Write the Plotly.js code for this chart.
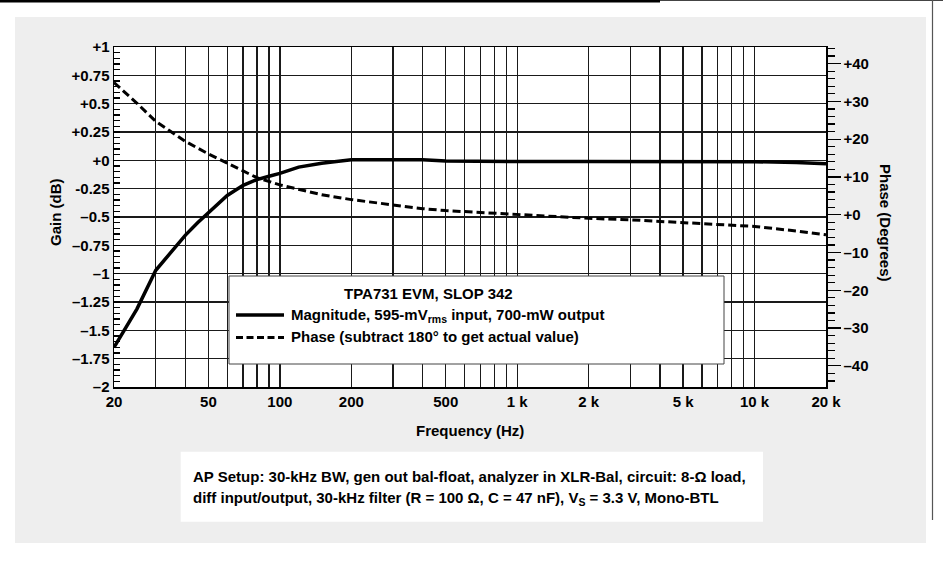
<!DOCTYPE html>
<html><head><meta charset="utf-8">
<script src="https://cdn.plot.ly/plotly-3.0.1.min.js"></script>
<style>html,body{margin:0;padding:0;background:#fff}#chart{width:943px;height:561px}</style>
</head><body><div id="chart"></div>
<script>
// ---- data ----
const freqMag = [20, 25, 30, 35, 40, 45, 50, 60, 70, 80, 90, 100, 120, 150, 200, 300, 400, 500, 700, 1000, 2000, 5000, 10000, 15000, 20000];
const gainDb  = [-1.65, -1.31, -0.97, -0.8, -0.66, -0.55, -0.46, -0.31, -0.22, -0.17, -0.14, -0.115, -0.06, -0.025, 0.005, 0.008, 0.006, -0.005, -0.01, -0.01, -0.01, -0.01, -0.012, -0.02, -0.03];
const freqPhase = [20, 25, 30, 40, 50, 60, 80, 100, 150, 200, 300, 400, 500, 700, 1000, 1500, 2000, 3000, 4000, 5000, 7000, 10000, 15000, 20000];
const phaseDeg  = [35.0, 29.5, 24.7, 19.4, 16.1, 13.7, 9.8, 7.9, 5.3, 4.0, 2.6, 1.6, 1.1, 0.6, 0.26, -0.5, -0.95, -1.35, -1.75, -2.0, -2.5, -3.1, -4.3, -5.3];

const xLabelVals = [20, 50, 100, 200, 500, 1000, 2000, 5000, 10000, 20000];
const xLabelText = ['20', '50', '100', '200', '500', '1 k', '2 k', '5 k', '10 k', '20 k'];
const xGridVals = [30, 40, 60, 70, 80, 90, 300, 400, 600, 700, 800, 900, 3000, 4000, 6000, 7000, 8000, 9000];
const gainTickVals = [1, 0.75, 0.5, 0.25, 0, -0.25, -0.5, -0.75, -1, -1.25, -1.5, -1.75, -2];
const gainTickText = ['+1', '+0.75', '+0.5', '+0.25', '+0', '-0.25', '\u20130.5', '\u20130.75', '\u20131', '\u20131.25', '\u20131.5', '\u20131.75', '\u20132'];
const phaseTickVals = [40, 30, 20, 10, 0, -10, -20, -30, -40];
const phaseTickText = ['+40', '+30', '+20', '+10', '+0', '\u201310', '\u201320', '\u201330', '\u201340'];

const legendTitle = 'TPA731 EVM, SLOP 342';
const legendMag = 'Magnitude, 595-mV<sub>rms</sub> input, 700-mW output';
const legendPhase = 'Phase (subtract 180\u00b0 to get actual value)';
const captionLine1 = 'AP Setup: 30-kHz BW, gen out bal-float, analyzer in XLR-Bal, circuit: 8-\u03a9 load,';
const captionLine2 = 'diff input/output, 30-kHz filter (R = 100 \u03a9, C = 47 nF), V<sub>S</sub> = 3.3 V, Mono-BTL';

// ---- layout helpers (pixel -> paper) ----
const L = 114, T = 47, W = 712, H = 340;
const X = p => (p - L) / W;
const Y = p => (T + H - p) / H;
const FONT = "'Liberation Sans', Arial, sans-serif";
const f = (size) => ({family: FONT, size: size, color: '#000', weight: 'bold'});
const GRID = '#1a1a1a';

const traces = [
  {x: freqMag, y: gainDb, type: 'scatter', mode: 'lines', line: {color: '#000', width: 3.5}, xaxis: 'x', yaxis: 'y', hoverinfo: 'skip'},
  {x: freqPhase, y: phaseDeg, type: 'scatter', mode: 'lines', line: {color: '#000', width: 3, dash: '8px,4px'}, xaxis: 'x', yaxis: 'y2', hoverinfo: 'skip'}
];

function rect(x0, y0, x1, y1, fill, line, layer) {
  return {type: 'rect', xref: 'paper', yref: 'paper', x0: X(x0), x1: X(x1), y0: Y(y0), y1: Y(y1),
    fillcolor: fill, line: line || {width: 0}, layer: layer || 'below'};
}
function seg(x0, y0, x1, y1, w, color, dash, layer) {
  return {type: 'line', xref: 'paper', yref: 'paper', x0: X(x0), x1: X(x1), y0: Y(y0), y1: Y(y1),
    line: {color: color, width: w, dash: dash || 'solid'}, layer: layer || 'above'};
}

const shapes = [
  rect(15, 17, 926, 543, '#eeeeee'),
  rect(114, 47, 826, 387, '#ffffff'),
  rect(180.7, 451.7, 763, 521.7, '#ffffff'),
  seg(0, 1, 660, 1, 3, '#000', 'solid', 'below'),
  seg(660, 0.5, 943, 0.5, 1, '#444', 'solid', 'below'),
  seg(932.5, 0, 932.5, 520, 1.2, '#555', 'solid', 'below'),
  rect(229, 276, 724, 364, '#ffffff', {color: '#444', width: 1}, 'above'),
  seg(236, 315, 284, 315, 3.5, '#000', 'solid', 'above'),
  seg(236, 337.5, 284, 337.5, 3, '#000', '7px,3.5px', 'above')
];

function ann(text, x, y, size, xanchor, extra) {
  return Object.assign({text: text, xref: 'paper', yref: 'paper', x: X(x), y: Y(y), showarrow: false,
    xanchor: xanchor || 'center', yanchor: 'middle', font: f(size)}, extra || {});
}

const annotations = [
  ann(legendTitle, 428.5, 293, 15, 'center'),
  ann(legendMag, 289, 315, 15, 'left'),
  ann(legendPhase, 289, 336, 15, 'left'),
  ann('Frequency (Hz)', 470, 430, 15, 'center'),
  ann('Gain (dB)', 55, 212, 15, 'center', {textangle: -90}),
  ann('Phase (Degrees)', 885, 223, 15, 'center', {textangle: 90}),
  ann(captionLine1, 191, 476, 15, 'left'),
  ann(captionLine2, 191, 498, 15, 'left')
];

const layout = {
  width: 943, height: 561, autosize: false,
  margin: {l: L, r: 943 - L - W, t: T, b: 561 - T - H, pad: 0},
  paper_bgcolor: '#ffffff', plot_bgcolor: 'rgba(0,0,0,0)',
  showlegend: false,
  font: f(15),
  xaxis: {type: 'log', range: [Math.log10(20), Math.log10(20000)], tickmode: 'array', tickvals: xLabelVals, ticktext: xLabelText,
    showgrid: true, gridcolor: GRID, gridwidth: 1.3, ticks: '', showline: true, linecolor: '#000', linewidth: 1.5, mirror: true,
    minor: {tickmode: 'array', tickvals: xGridVals, ticks: '', showgrid: true, gridcolor: GRID, gridwidth: 1.3},
    tickfont: f(15), zeroline: false, fixedrange: true},
  yaxis: {range: [-2, 1], tickmode: 'array', tickvals: gainTickVals, ticktext: gainTickText,
    showgrid: true, gridcolor: GRID, gridwidth: 1.3, ticks: 'inside', ticklen: 6, tickwidth: 1.2, tickcolor: '#000',
    minor: {dtick: 0.05, tick0: 0, ticks: 'inside', ticklen: 6, tickwidth: 1.2, tickcolor: '#000', showgrid: false},
    showline: true, linecolor: '#000', linewidth: 1.5, zeroline: false, tickfont: f(15), fixedrange: true},
  yaxis2: {overlaying: 'y', side: 'right', range: [-45.6, 44.4], tickmode: 'array', tickvals: phaseTickVals, ticktext: phaseTickText,
    showgrid: false, ticks: 'outside', ticklen: 13, tickwidth: 1.2, tickcolor: '#000',
    minor: {dtick: 2, tick0: 0, ticks: 'outside', ticklen: 7, tickwidth: 1.2, tickcolor: '#000', showgrid: false},
    showline: true, linecolor: '#000', linewidth: 1.5, zeroline: false, tickfont: f(15), fixedrange: true},
  shapes: shapes,
  annotations: annotations
};

Plotly.newPlot('chart', traces, layout, {displayModeBar: false, staticPlot: true});
</script>
</body></html>
